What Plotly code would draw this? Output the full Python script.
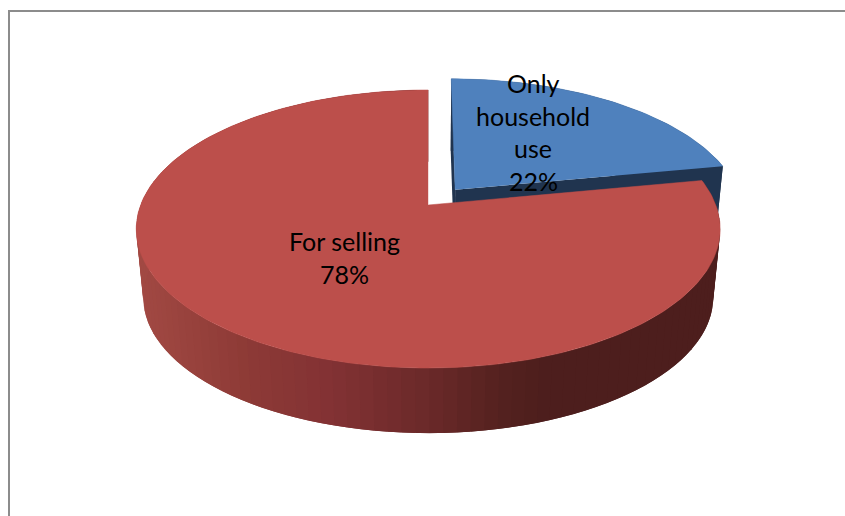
import numpy as np
import plotly.graph_objects as go

# Chart data
categories = ["Only household use", "For selling"]
shares = [22, 78]
label_lines = [["Only", "household", "use"], ["For selling"]]
label_centres = [(533, 83), (344, 241)]

# Camera and pie geometry, in page pixels
CX, CY = 428.2, 205
RX, RY = 287.6, 134.9
PERSPECTIVE = 0.1727
DEPTH_DROP = 69
DEPTH_SCALE = 0.976
EXPLODE = 0.15

BLUE_TOP, BLUE_SIDE = "#4F81BD", "#20344F"
RED_TOP = "#BC4F4B"

# Shading of the red rim from left to right
shade_x = [136, 250, 330, 430, 500, 540, 720]
shade_r = [163, 141, 131, 106, 84, 77, 77]
shade_g = [74, 58, 50, 41, 33, 30, 30]
shade_b = [68, 54, 52, 41, 31, 29, 29]


def project(theta, radius=1.0, offset=(0.0, 0.0), lower=False):
    """Project a point of the pie, angle clockwise from 12 o'clock, to the page."""
    u = radius * np.sin(theta) + offset[0]
    v = radius * np.cos(theta) + offset[1]
    s = 1 / (1 + PERSPECTIVE * v)
    x = RX * u * s
    y = -RY * v * s
    if lower:
        x, y = x * DEPTH_SCALE, y * DEPTH_SCALE + DEPTH_DROP
    return CX + x, CY + y


def polygon(xs, ys, color, edge=0.0):
    return go.Scatter(
        x=list(xs), y=list(ys), mode="lines", fill="toself", fillcolor=color,
        line=dict(color=color, width=edge), hoverinfo="skip", showlegend=False,
    )


def rim_color(x):
    r = np.interp(x, shade_x, shade_r)
    g = np.interp(x, shade_x, shade_g)
    b = np.interp(x, shade_x, shade_b)
    return f"rgb({r:.0f},{g:.0f},{b:.0f})"


# Slice angles follow from the shares
total = sum(shares)
split = 2 * np.pi * shares[0] / total
mid = split / 2
blue_off = (EXPLODE * np.sin(mid), EXPLODE * np.cos(mid))

fig = go.Figure()

# Blue slice: rim and cut faces first, then its top
arc = np.linspace(0, split, 60)
tx, ty = project(arc, offset=blue_off)
bx, by = project(arc, offset=blue_off, lower=True)
fig.add_trace(polygon(np.r_[tx, bx[::-1]], np.r_[ty, by[::-1]], BLUE_SIDE))

ax_t, ay_t = project(0.0, 0.0, blue_off)
ax_b, ay_b = project(0.0, 0.0, blue_off, lower=True)
fig.add_trace(polygon([ax_t, tx[-1], bx[-1], ax_b], [ay_t, ty[-1], by[-1], ay_b], BLUE_SIDE))
fig.add_trace(polygon([ax_t, tx[0], bx[0], ax_b], [ay_t, ty[0], by[0], ay_b], BLUE_SIDE))
fig.add_trace(polygon(np.r_[ax_t, tx], np.r_[ay_t, ty], BLUE_TOP, edge=0.5))

# Red slice: banded rim, each band overlapping the next so no seams show
bands = np.linspace(split, 2 * np.pi, 121)
step = bands[1] - bands[0]
for a0, a1 in zip(bands[:-1], bands[1:]):
    seg = np.linspace(a0, min(a1 + step, 2 * np.pi), 5)
    sx, sy = project(seg)
    lx, ly = project(seg, lower=True)
    fig.add_trace(polygon(np.r_[sx, lx[::-1]], np.r_[sy, ly[::-1]], rim_color(lx[:3].mean())))

arc = np.linspace(split, 2 * np.pi, 240)
tx, ty = project(arc)
fig.add_trace(polygon(np.r_[CX, tx], np.r_[CY, ty], RED_TOP, edge=0.5))

# Data labels, one annotation per line
LINE_GAP = 32.5
for i, (lines, (lx, ly)) in enumerate(zip(label_lines, label_centres)):
    for j, text in enumerate(lines + [f"{shares[i]}%"]):
        fig.add_annotation(
            x=lx, y=ly + j * LINE_GAP, text=text, showarrow=False,
            xanchor="center", yanchor="middle",
            font=dict(family="Lato", size=25, color="#000000"),
        )

# Chart area frame, running off the right and bottom of the page
fig.add_shape(type="rect", x0=9, y0=11, x1=860, y1=530, line=dict(color="#8C8C8C", width=2))

fig.update_layout(
    width=845, height=516, margin=dict(l=0, r=0, t=0, b=0),
    paper_bgcolor="white", plot_bgcolor="white", showlegend=False,
    xaxis=dict(range=[0, 845], visible=False, fixedrange=True),
    yaxis=dict(range=[516, 0], visible=False, fixedrange=True),
)

fig.write_html("out.html", config={"displayModeBar": False})
